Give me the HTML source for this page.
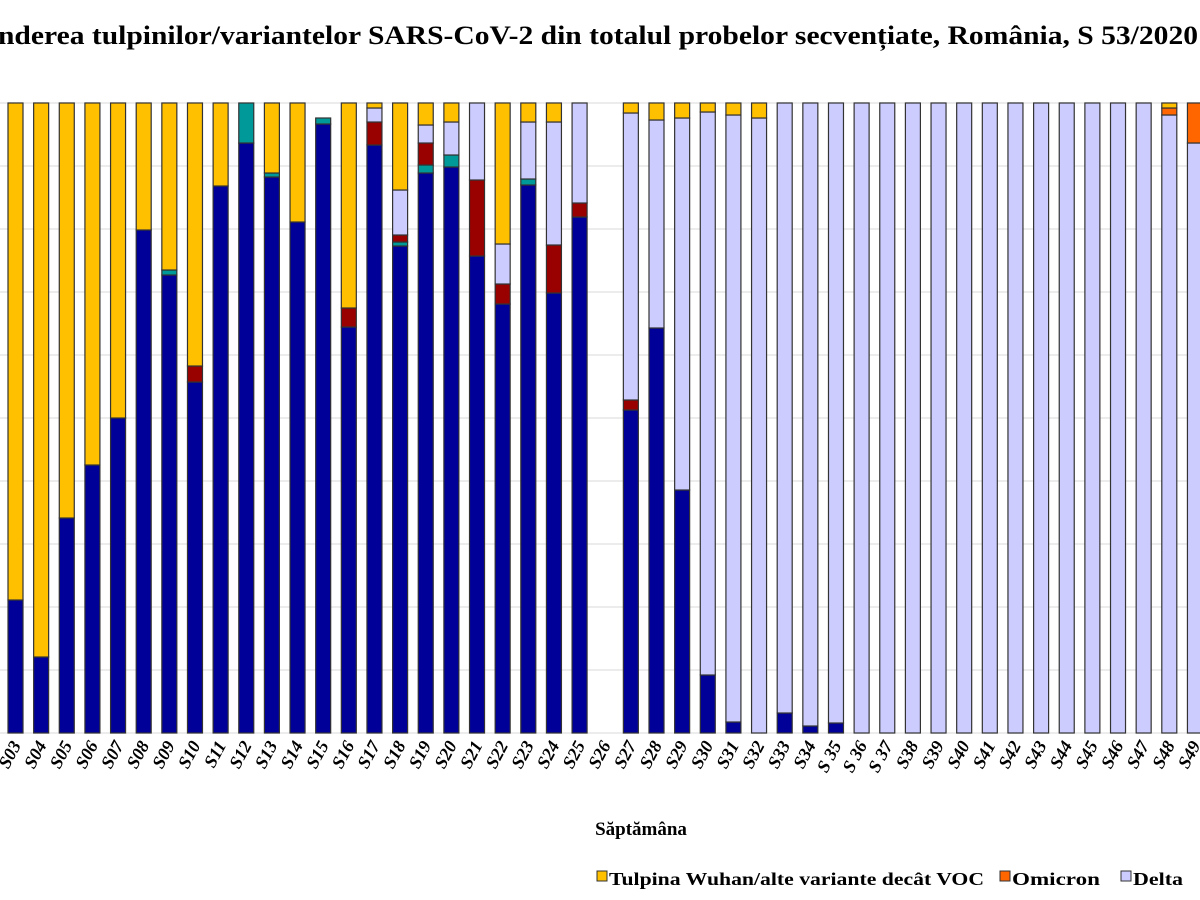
<!DOCTYPE html>
<html><head><meta charset="utf-8"><style>
html,body{margin:0;padding:0;background:#fff;width:1200px;height:900px;overflow:hidden}
svg{display:block}
</style></head><body>
<svg id="s" width="1200" height="900" xmlns="http://www.w3.org/2000/svg" font-family="Liberation Serif, serif">
<text x="-2" y="44" font-size="26" font-weight="bold" textLength="1200" lengthAdjust="spacingAndGlyphs">nderea tulpinilor/variantelor SARS-CoV-2 din totalul probelor secvențiate, România, S 53/2020</text>
<g id="grid" stroke="#e6e6e6" stroke-width="1.5"></g>
<g id="bars" stroke="#333" stroke-width="1.2"></g>
<g id="lab" font-size="18" font-weight="bold" font-style="italic"></g>
<text x="641" y="835" font-size="19" font-weight="bold" text-anchor="middle">Săptămâna</text>
<g font-size="18" font-weight="bold">
<rect x="597" y="871" width="10" height="10" fill="#ffc000" stroke="#333"/>
<text x="609" y="885" textLength="375" lengthAdjust="spacingAndGlyphs">Tulpina Wuhan/alte variante decât VOC</text>
<rect x="1000" y="871" width="10" height="10" fill="#ff6600" stroke="#333"/>
<text x="1012" y="885" textLength="88" lengthAdjust="spacingAndGlyphs">Omicron</text>
<rect x="1121" y="871" width="10" height="10" fill="#ccccff" stroke="#333"/>
<text x="1133" y="885" textLength="50" lengthAdjust="spacingAndGlyphs">Delta</text>
</g>
</svg>
<script>
var B='#000099',R='#990000',T='#009999',L='#ccccff',Y='#ffc000',O='#ff6600';
var d={
'S03':[[B,600],[Y,103]],'S04':[[B,657],[Y,103]],'S05':[[B,518],[Y,103]],'S06':[[B,465],[Y,103]],
'S07':[[B,418],[Y,103]],'S08':[[B,230],[Y,103]],'S09':[[B,275],[T,270],[Y,103]],'S10':[[B,382],[R,366],[Y,103]],
'S11':[[B,186],[Y,103]],'S12':[[B,143],[T,103]],'S13':[[B,177],[T,173],[Y,103]],'S14':[[B,222],[Y,103]],
'S15':[[B,124],[T,118]],'S16':[[B,327],[R,308],[Y,103]],'S17':[[B,145],[R,122],[L,108],[Y,103]],
'S18':[[B,246],[T,242],[R,235],[L,190],[Y,103]],'S19':[[B,173],[T,165],[R,143],[L,125],[Y,103]],
'S20':[[B,167],[T,155],[L,122],[Y,103]],'S21':[[B,256],[R,180],[L,103]],'S22':[[B,304],[R,284],[L,244],[Y,103]],
'S23':[[B,185],[T,179],[L,122],[Y,103]],'S24':[[B,293],[R,245],[L,122],[Y,103]],'S25':[[B,217],[R,203],[L,103]],
'S26':[],'S27':[[B,410],[R,400],[L,113],[Y,103]],'S28':[[B,328],[L,120],[Y,103]],'S29':[[B,490],[L,118],[Y,103]],
'S30':[[B,675],[L,112],[Y,103]],'S31':[[B,722],[L,115],[Y,103]],'S32':[[L,118],[Y,103]],'S33':[[B,713],[L,103]],
'S34':[[B,726],[L,103]],'S 35':[[B,723],[L,103]]};
var names=['S03','S04','S05','S06','S07','S08','S09','S10','S11','S12','S13','S14','S15','S16','S17','S18','S19','S20','S21','S22','S23','S24','S25','S26','S27','S28','S29','S30','S31','S32','S33','S34','S 35','S 36','S 37','S38','S39','S40','S41','S42','S43','S44','S45','S46','S47','S48','S49'];
d['S48']=[[L,115],[O,108],[Y,103]];d['S49']=[[L,143],[O,103]];
var ns='http://www.w3.org/2000/svg',g=document.getElementById('bars'),lab=document.getElementById('lab'),gr=document.getElementById('grid');
for(var i=0;i<=10;i++){var y=103+63*i;var l=document.createElementNS(ns,'line');l.setAttribute('x1',0);l.setAttribute('x2',1200);l.setAttribute('y1',y);l.setAttribute('y2',y);gr.appendChild(l);}
names.forEach(function(n,i){
 var cx=15.5+i*25.64,x=cx-7.5,w=15;
 var segs=d[n]||[[L,103]];
 var bot=733;
 segs.forEach(function(s){var r=document.createElementNS(ns,'rect');r.setAttribute('x',x);r.setAttribute('y',s[1]);r.setAttribute('width',w);r.setAttribute('height',bot-s[1]);r.setAttribute('fill',s[0]);g.appendChild(r);bot=s[1];});
 var t=document.createElementNS(ns,'text');t.setAttribute('transform','translate('+(cx+6)+',745) rotate(-62)');t.setAttribute('text-anchor','end');t.textContent=n;lab.appendChild(t);
});
</script>
</body></html>
